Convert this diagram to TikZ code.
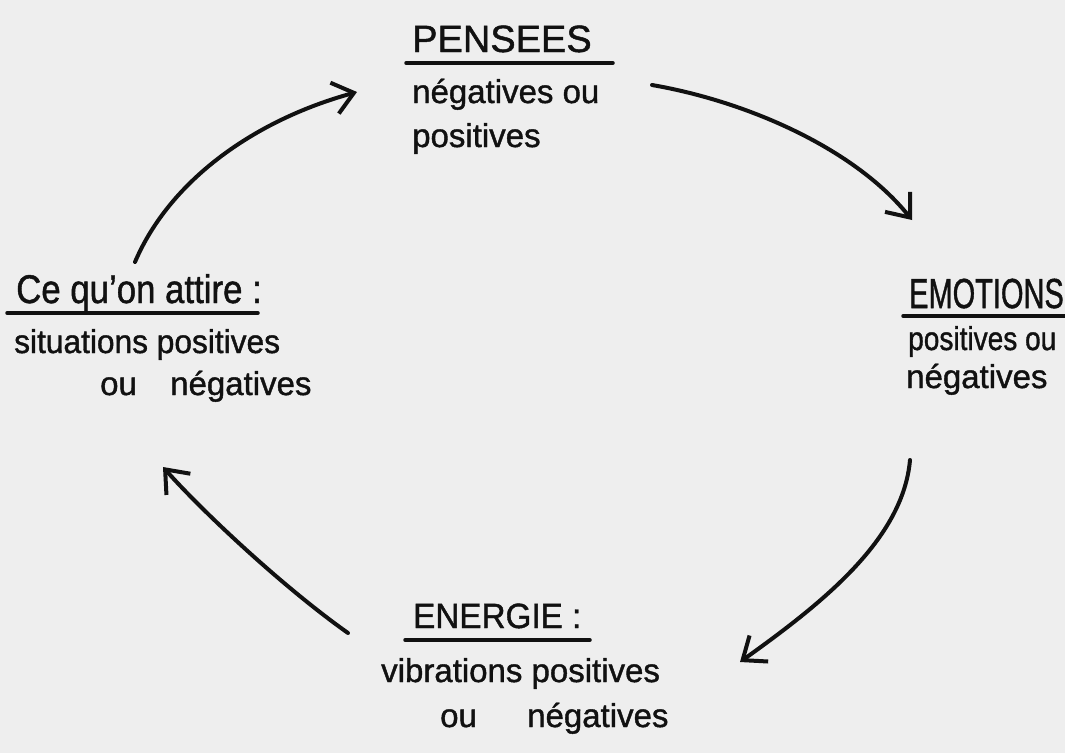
\documentclass[tikz,border=0pt]{standalone}
\usepackage{fontspec}
\setmainfont[FakeBold=1.2]{Liberation Sans}
\usetikzlibrary{arrows.meta}
\definecolor{paper}{HTML}{EEEEEE}
\definecolor{ink}{HTML}{111111}
\tikzset{
  titletext/.style={anchor=base west, inner sep=0pt, text=ink},
  bodytext/.style={anchor=base west, inner sep=0pt, text=ink, font=\fontsize{33}{36}\selectfont},
  ul/.style={draw=ink, line width=3.5pt, line cap=round},
  flow/.style={draw=ink, line width=4pt, line cap=round,
    -{Straight Barb[length=20pt,width=32pt,line width=4pt]}},
}
\begin{document}
\begin{tikzpicture}[x=1pt,y=-1pt]
  \fill[paper] (0,0) rectangle (1065,753);
  \useasboundingbox (0,0) rectangle (1065,753);

  % PENSEES
  \node[titletext, font=\fontsize{38}{40}\selectfont] (pt) at (412,52) {PENSEES};
  \draw[ul] (406,63) -- (613,63);
  \node[bodytext] (pb1) at (412,103) {négatives ou};
  \node[bodytext] (pb2) at (412,147) {positives};

  % EMOTIONS
  \node[titletext, font=\fontsize{42}{44}\selectfont] (et) at (909,308) {\scalebox{0.69}[1]{EMOTIONS}};
  \draw[ul] (903,316) -- (1065,316);
  \node[bodytext] (eb1) at (908,350) {\scalebox{0.85}[1]{positives ou}};
  \node[bodytext] (eb2) at (906,388) {négatives};

  % ENERGIE
  \node[titletext, font=\fontsize{35}{37}\selectfont] (nt) at (413,628) {\scalebox{0.95}[1]{ENERGIE :}};
  \draw[ul] (405,640) -- (590,640);
  \node[bodytext] (nb1) at (381,682) {vibrations positives};
  \node[bodytext] (nb2) at (440,727) {ou};
  \node[bodytext] (nb3) at (527,727) {négatives};

  % Ce qu'on attire
  \node[titletext, font=\fontsize{40}{42}\selectfont] (ct) at (16,303) {\scalebox{0.87}[1]{Ce qu'on attire :}};
  \draw[ul] (7,313) -- (258,313);
  \node[bodytext] (cb1) at (14,353) {\scalebox{0.96}[1]{situations positives}};
  \node[bodytext] (cb2) at (100,395) {ou};
  \node[bodytext] (cb3) at (170,395) {négatives};

  % arrow end points
  \coordinate (a1s) at (652,85);
  \coordinate (a1e) at (912,220);
  \coordinate (a2s) at (910,460);
  \coordinate (a2e) at (740,662);
  \coordinate (a3s) at (348,633);
  \coordinate (a3e) at (163,467);
  \coordinate (a4s) at (135,262);
  \coordinate (a4e) at (357,92);

  \draw[flow] (a1s) .. controls (750,102) and (856,150) .. (a1e);
  \draw[flow] (a2s) .. controls (903,540) and (821,604) .. (a2e);
  \draw[flow] (a3s) .. controls (283,587) and (203,512) .. (a3e);
  \draw[flow] (a4s) .. controls (170,180) and (255,120) .. (a4e);
\end{tikzpicture}
\end{document}
